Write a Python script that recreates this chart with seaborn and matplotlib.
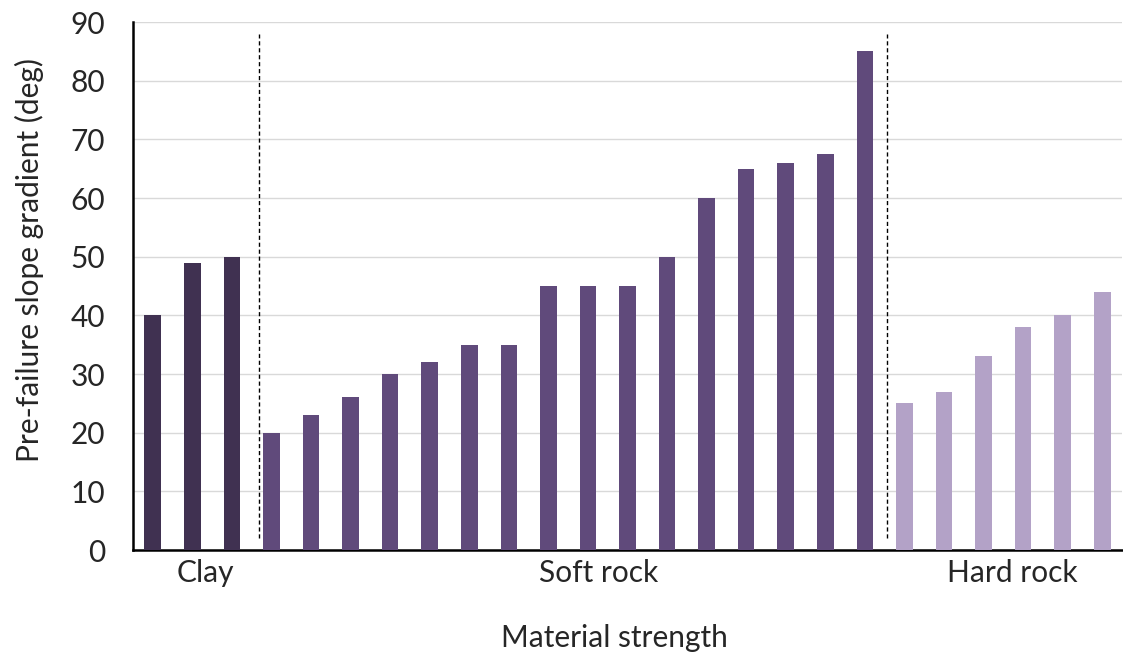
import numpy as np
import matplotlib
matplotlib.use("Agg")
import matplotlib.pyplot as plt
import matplotlib.transforms as mtransforms
import seaborn as sns
import pandas as pd

# values
clay = [40, 49, 50]
soft_rock = [20, 23, 26, 30, 32, 35, 35, 45, 45, 45, 50, 60, 65, 66, 67.5, 85]
hard_rock = [25, 27, 33, 38, 40, 44]

group_names = ["Clay", "Soft rock", "Hard rock"]
group_colors = ["#403151", "#604A7B", "#B3A2C7"]
label_pos = [1.32, 11.28, 21.73]      # where the group names sit along the x axis
divider_pos = [2.68, 18.57]           # dashed separators

vals = clay + soft_rock + hard_rock
groups = ["Clay"] * len(clay) + ["Soft rock"] * len(soft_rock) + ["Hard rock"] * len(hard_rock)
df = pd.DataFrame({"idx": np.arange(len(vals)), "val": vals, "group": groups})

sns.set_style("white")
plt.rcParams["font.family"] = ["Lato", "DejaVu Sans"]
fs = 21.5

fig = plt.figure(figsize=(11.23, 6.57), dpi=100)
ax = fig.add_axes([133 / 1123, 1 - 550 / 657, (1122 - 133) / 1123, (550 - 22) / 657])

sns.barplot(data=df, x="idx", y="val", hue="group", hue_order=group_names,
            palette=dict(zip(group_names, group_colors)), dodge=False,
            width=0.42, legend=False, saturation=1, linewidth=0, ax=ax, zorder=3)

ax.set_xlim(-0.5, len(vals) - 0.5)
ax.set_ylim(0, 90)
ax.set_yticks(np.arange(0, 91, 10))
ax.yaxis.grid(True, color="#d9d9d9", linewidth=1.0, zorder=0)
ax.set_axisbelow(True)

for s in ["top", "right"]:
    ax.spines[s].set_visible(False)
for s in ["left", "bottom"]:
    ax.spines[s].set_color("black")
    ax.spines[s].set_linewidth(1.8)

ax.tick_params(axis="y", length=7, width=1.8, color="black", pad=13, labelsize=fs)
ax.tick_params(axis="x", bottom=False, labelbottom=False)
ax.set_xlabel("")
ax.set_ylabel("")

fig.text(29 / 1123, 1 - 260 / 657, "Pre-failure slope gradient (deg)", rotation=90,
         ha="center", va="center", fontsize=fs)

for xp in divider_pos:
    ax.plot([xp, xp], [2, 88], color="black", linestyle=(0, (3, 2)), linewidth=1.0, zorder=4)

trans = mtransforms.blended_transform_factory(ax.transData, fig.transFigure)
for name, xp in zip(group_names, label_pos):
    ax.text(xp, 1 - 573 / 657, name, transform=trans, ha="center", va="center", fontsize=fs)

fig.text(614.5 / 1123, 1 - 638 / 657, "Material strength", ha="center", va="center", fontsize=fs)

fig.savefig("out.png", dpi=100)
